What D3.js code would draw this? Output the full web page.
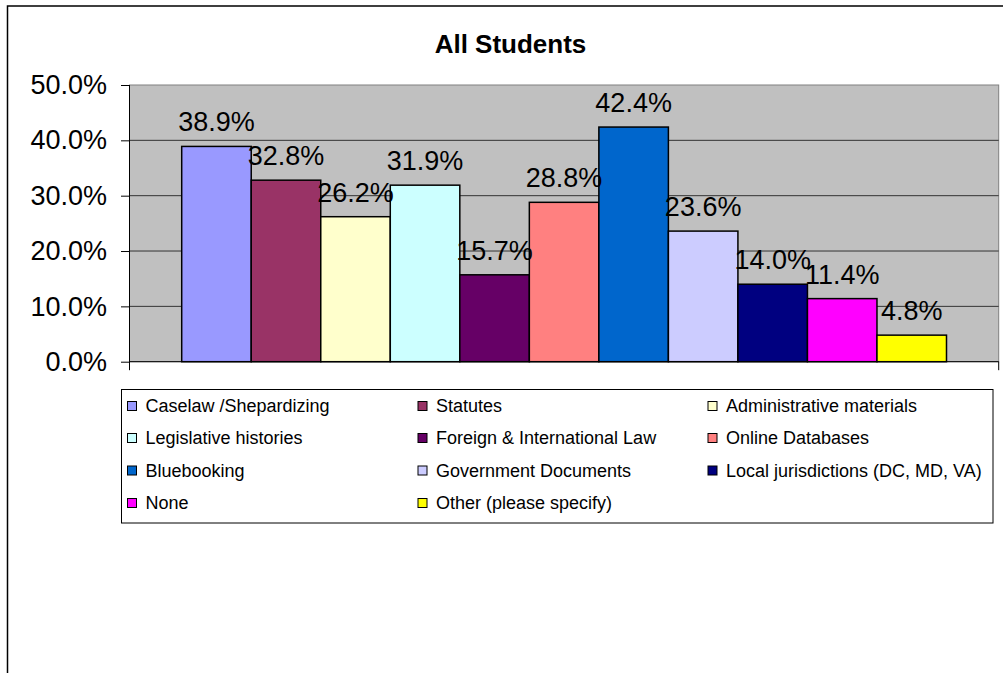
<!DOCTYPE html>
<html><head><meta charset="utf-8">
<script src="https://cdn.jsdelivr.net/npm/d3@7"></script>
<style>
html,body{margin:0;padding:0;background:#fff;}
svg{display:block;font-family:"Liberation Sans",Arial,sans-serif;}
</style></head>
<body><svg id="c" width="1003" height="673"></svg>
<script>
const categories = ["Caselaw /Shepardizing","Statutes","Administrative materials","Legislative histories","Foreign & International Law","Online Databases","Bluebooking","Government Documents","Local jurisdictions (DC, MD, VA)","None","Other (please specify)"];
const values = [38.9,32.8,26.2,31.9,15.7,28.8,42.4,23.6,14.0,11.4,4.8];
const colors = ["#9999FF","#993366","#FFFFCC","#CCFFFF","#660066","#FF8080","#0066CC","#CCCCFF","#000080","#FF00FF","#FFFF00"];
const yTicks = [0,10,20,30,40,50];
const title = "All Students";

const svg = d3.select("#c");
// outer chart border
svg.append("rect").attr("x",7.5).attr("y",6).attr("width",1100).attr("height",800)
  .attr("fill","#fff").attr("stroke","#000").attr("stroke-width",1.5);

const L=129.5, R=998.7, T=85, B=361.7;
const y = d3.scaleLinear().domain([0,50]).range([B,T]);
const x = d3.scaleBand().domain(categories).range([L+52.2,R-52.2]).paddingInner(0).paddingOuter(0);

// title
svg.append("text").attr("x",510.5).attr("y",53.3).attr("text-anchor","middle")
  .attr("font-size",26).attr("font-weight","bold").attr("fill","#000").text(title);

// plot area
svg.append("rect").attr("x",L).attr("y",T).attr("width",R-L).attr("height",B-T)
  .attr("fill","#C0C0C0").attr("stroke","#808080").attr("stroke-width",1);

// gridlines
svg.append("g").selectAll("line").data(yTicks.filter(d=>d>0 && d<50)).join("line")
  .attr("x1",L).attr("x2",R).attr("y1",d=>y(d)).attr("y2",d=>y(d))
  .attr("stroke","#333").attr("stroke-width",1);

// y axis
const yAxis = d3.axisLeft(y).tickValues(yTicks).tickSize(8.5).tickPadding(14)
  .tickFormat(d=>d.toFixed(1)+"%");
const gy = svg.append("g").attr("transform",`translate(${L},0)`).call(yAxis);
gy.select(".domain").attr("stroke","#000").attr("d",`M0,${B+8.5}V${T}`);
gy.selectAll(".tick line").attr("stroke","#000");
gy.selectAll(".tick text").attr("font-size",27).attr("fill","#000")
  .attr("font-family","Liberation Sans, Arial, sans-serif");

// bars
svg.append("g").selectAll("rect").data(values).join("rect")
  .attr("x",(d,i)=>x(categories[i])).attr("width",x.bandwidth())
  .attr("y",d=>y(d)).attr("height",d=>B-y(d))
  .attr("fill",(d,i)=>colors[i]).attr("stroke","#000").attr("stroke-width",1.5);

// x axis line
svg.append("path").attr("d",`M${L},${B}H${R}M${R},${B}V${B+8.5}`).attr("stroke","#000").attr("stroke-width",1).attr("fill","none");

// value labels
svg.append("g").selectAll("text").data(values).join("text")
  .attr("x",(d,i)=>x(categories[i])+x.bandwidth()/2)
  .attr("y",d=>y(d)-15).attr("text-anchor","middle")
  .attr("font-size",27).attr("fill","#000")
  .text(d=>d.toFixed(1)+"%");

// legend
svg.append("rect").attr("x",121.5).attr("y",389.5).attr("width",871.5).attr("height",133.5)
  .attr("fill","#fff").attr("stroke","#000").attr("stroke-width",1);
const colX=[127.5,418,708], rowY=[406,438,470.5,503];
const lg = svg.append("g").selectAll("g").data(categories).join("g")
  .attr("transform",(d,i)=>`translate(${colX[i%3]},${rowY[Math.floor(i/3)]})`);
lg.append("rect").attr("x",0).attr("y",-4.5).attr("width",9).attr("height",9)
  .attr("fill",(d,i)=>colors[i]).attr("stroke","#000").attr("stroke-width",1);
lg.append("text").attr("x",18).attr("y",0).attr("dy","0.35em")
  .attr("font-size",18).attr("fill","#000").text(d=>d);
</script></body></html>
